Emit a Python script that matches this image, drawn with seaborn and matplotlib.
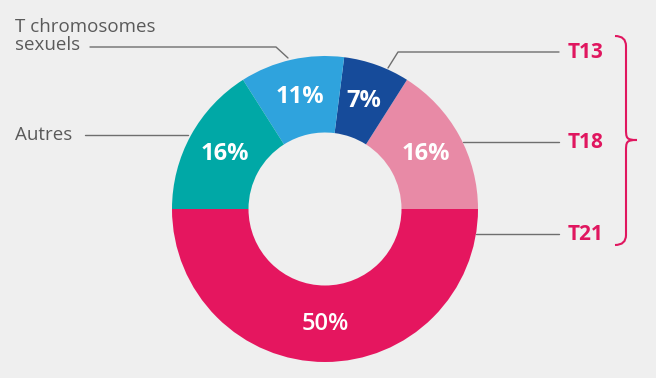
import matplotlib
matplotlib.use("Agg")
import matplotlib.pyplot as plt
import seaborn as sns
from matplotlib.path import Path
from matplotlib.patches import PathPatch

# data
categories = ["T21", "T18", "T13", "T chromosomes\nsexuels", "Autres"]
shares = [50, 16, 7, 11, 16]
slice_colors = ["#E5165F", "#E88AA6", "#164B9A", "#2FA3DD", "#00A8A6"]

W, H = 656, 378
BG = "#EFEFEF"

sns.set_style("white")
plt.rcParams["font.family"] = ["Open Sans", "DejaVu Sans"]

fig = plt.figure(figsize=(W / 100, H / 100), dpi=100, facecolor=BG)
ax = fig.add_axes([0, 0, 1, 1])
ax.set_facecolor(BG)
ax.set_xlim(0, W)
ax.set_ylim(0, H)
ax.set_aspect("equal")
ax.axis("off")


def Y(y):
    return H - y


cx, cy, R = 325, Y(209), 153
wedges, _, autotexts = ax.pie(
    shares, colors=slice_colors, startangle=180, counterclock=True,
    center=(cx, cy), radius=R, frame=True,
    autopct=lambda p: f"{p:.0f}%", pctdistance=0.75,
    wedgeprops=dict(width=R * 0.5, linewidth=0),
    textprops=dict(color="white", fontsize=17, fontweight="bold"),
)
for t in autotexts:
    t.set_fontweight("bold")
autotexts[0].set_fontweight("semibold")
ax.set_xlim(0, W)
ax.set_ylim(0, H)
ax.axis("off")

line_kw = dict(color="#6E6E6E", lw=1.0)
red = "#E0165F"
gray = "#5A5A5A"

# right-hand leader lines and labels
ax.plot([388, 398, 559], [Y(68), Y(52), Y(52)], **line_kw)
ax.plot([463, 559], [Y(142), Y(142)], **line_kw)
ax.plot([476, 559], [Y(234), Y(234)], **line_kw)
for name, y in zip(categories[:3][::-1], [52, 142, 234]):
    ax.text(568, Y(y), name, color=red, fontsize=15, fontweight="bold",
            va="center", ha="left")

# left-hand leader lines and labels
ax.plot([90, 276, 288], [Y(47), Y(47), Y(58)], **line_kw)
ax.plot([85, 188], [Y(135), Y(135)], **line_kw)
ax.text(15, Y(36), categories[3], color=gray, fontsize=13.5,
        va="center", ha="left", linespacing=0.95)
ax.text(15, Y(135), categories[4], color=gray, fontsize=13.5,
        va="center", ha="left")

# curly brace
top, mid, bot = 36, 140, 245
bx0, bx1, bx2 = 615, 626, 637
verts = [
    (bx0, Y(top)), (bx1, Y(top)), (bx1, Y(top + 10)),
    (bx1, Y(mid - 12)),
    (bx1, Y(mid - 2)), (bx1, Y(mid)), (bx2, Y(mid)),
    (bx1, Y(mid)), (bx1, Y(mid + 2)), (bx1, Y(mid + 12)),
    (bx1, Y(bot - 10)),
    (bx1, Y(bot)), (bx0, Y(bot)),
]
codes = [Path.MOVETO, Path.CURVE3, Path.CURVE3, Path.LINETO,
         Path.CURVE4, Path.CURVE4, Path.CURVE4,
         Path.CURVE4, Path.CURVE4, Path.CURVE4,
         Path.LINETO, Path.CURVE3, Path.CURVE3]
ax.add_patch(PathPatch(Path(verts, codes), fill=False, edgecolor=red, lw=1.5))

fig.savefig("out.png", dpi=100, facecolor=BG)
